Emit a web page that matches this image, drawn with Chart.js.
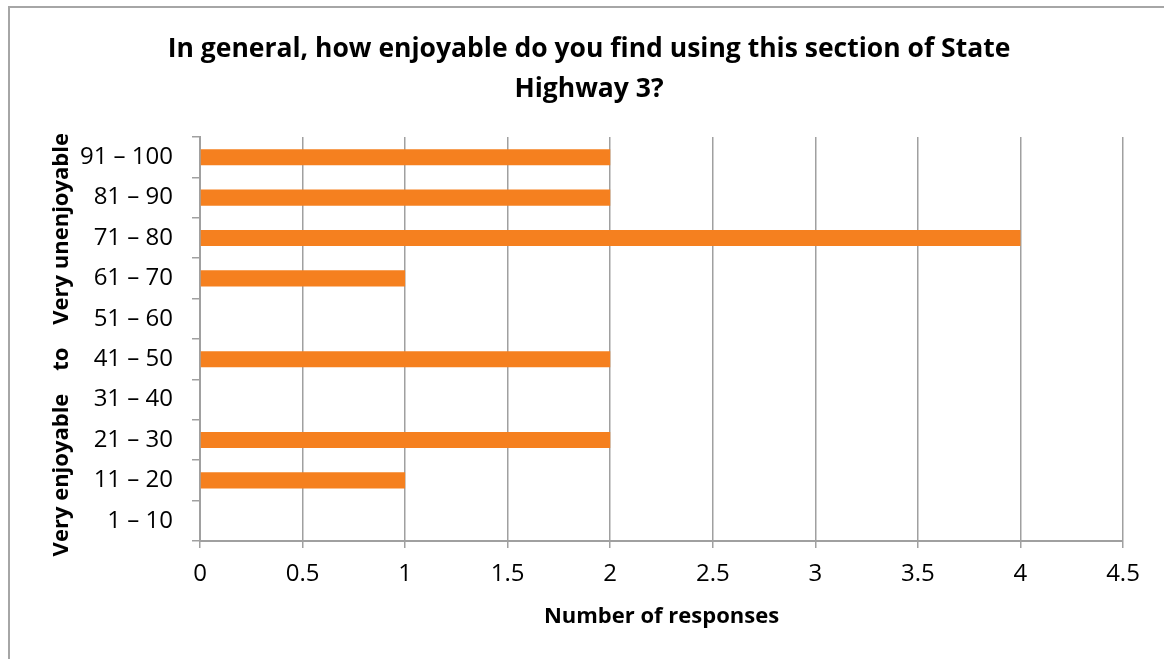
<!DOCTYPE html>
<html>
<head>
<meta charset="utf-8">
<script src="https://cdn.jsdelivr.net/npm/chart.js@4"></script>
<style>
    html, body { margin: 0; padding: 0; background: #fff; }
    #wrap { position: relative; width: 1164px; height: 659px; overflow: hidden; }
    #frame { position: absolute; left: 8px; top: 6px; width: 1200px; height: 700px;
             border-left: 2px solid #a6a6a6; border-top: 2px solid #a6a6a6; }
    #chart { position: absolute; left: 0; top: 0; }
</style>
</head>
<body>
<div id="wrap">
    <div id="frame"></div>
    <canvas id="chart" width="1164" height="659"></canvas>
</div>
<script>
// ---- data ----
const ranges = ['91 – 100', '81 – 90', '71 – 80', '61 – 70', '51 – 60',
                '41 – 50', '31 – 40', '21 – 30', '11 – 20', '1 – 10'];
const responses = [2, 2, 4, 1, 0, 2, 0, 2, 1, 0];
const xTicks = [0, 0.5, 1, 1.5, 2, 2.5, 3, 3.5, 4, 4.5];

const titleLines = ['In general, how enjoyable do you find using this section of State', 'Highway 3?'];
// trailing spaces nudge the rotated title down a little
const yTitle = 'Very enjoyable    to    Very unenjoyable  ';
const xTitle = 'Number of responses';

const FONT = '"Open Sans", sans-serif';
const GRID = '#a0a0a0';

new Chart(document.getElementById('chart'), {
    type: 'bar',
    data: {
        labels: ranges,
        datasets: [{
            label: 'Responses',
            data: responses,
            backgroundColor: '#F5801F',
            barPercentage: 0.4,
            categoryPercentage: 1
        }]
    },
    options: {
        indexAxis: 'y',
        responsive: false,
        animation: false,
        layout: { padding: { left: 14, right: 0, top: 0, bottom: 0 } },
        plugins: {
            legend: { display: false },
            tooltip: { enabled: false },
            title: {
                display: true,
                text: titleLines,
                color: '#000',
                font: { family: FONT, size: 26.5, weight: 'bold', lineHeight: 1.51 },
                padding: { top: 29, bottom: 28 }
            }
        },
        scales: {
            x: {
                type: 'linear',
                min: 0,
                max: 4.5,
                afterBuildTicks: (s) => { s.ticks = xTicks.map(v => ({ value: v })); },
                afterFit: (s) => { s.height = 118; },
                ticks: { color: '#000', font: { family: FONT, size: 24 }, padding: 12,
                         callback: (v) => String(v) },
                grid: { color: GRID, lineWidth: 1.5, tickLength: 7 },
                border: { color: GRID, width: 2 },
                title: { display: true, text: xTitle, color: '#000',
                         font: { family: FONT, size: 22, weight: 'bold' }, padding: { top: 0, bottom: 29 } }
            },
            y: {
                afterFit: (s) => { s.width = 186; },
                ticks: { color: '#000', font: { family: FONT, size: 24 }, padding: 19 },
                grid: { drawOnChartArea: false, color: GRID, lineWidth: 1.5, tickLength: 8 },
                border: { color: GRID, width: 2 },
                title: { display: true, text: yTitle, color: '#000',
                         font: { family: FONT, size: 22, weight: 'bold' }, padding: { top: 35, bottom: 0 } }
            },
            // empty box on the right so the plot ends at 4.5 like the original
            pad: {
                position: 'right',
                display: true,
                afterFit: (s) => { s.width = 41; },
                ticks: { display: false },
                grid: { display: false },
                border: { display: false }
            }
        }
    }
});
</script>
</body>
</html>
